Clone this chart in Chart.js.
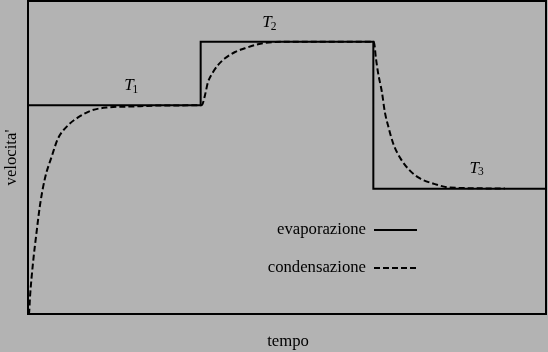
<!DOCTYPE html>
<html>
<head>
<meta charset="utf-8">
<script src="https://cdn.jsdelivr.net/npm/chart.js@4"></script>
<style>
  html, body { margin: 0; padding: 0; background: #b3b3b3; }
  #wrap { width: 548px; height: 352px; position: relative; }
</style>
</head>
<body>
<div id="wrap"><canvas id="c" width="548" height="352"></canvas></div>
<script>
// ---- data ----
const seriesNames = ["evaporazione", "condensazione"];
const axisTitles = { x: "tempo", y: "velocita'" };
const phaseLabels = ["T", "T", "T"];
const phaseSubs = ["1", "2", "3"];
const phaseLabelX = [6, 14, 26];
const phaseLabelY = [73, 93, 46.5];

// evaporazione: step levels
const evapX = [0, 10, 10, 20, 20, 30];
const evapY = [66.7, 66.7, 87, 87, 40, 40];

// condensazione
const condX = [0, 0.06, 0.12, 0.29, 0.52, 0.69, 0.98, 1.39, 1.74, 2.32, 2.90, 3.71, 4.63, 6.02, 7.64, 10,
  10.08, 10.25, 10.42, 10.71, 11.0, 11.41, 11.99, 12.57, 13.32, 14.30, 15.75, 20.03,
  20.15, 20.27, 20.50, 20.67, 20.85, 21.13, 21.54, 22.12, 22.70, 23.45, 24.44, 27.62];
const condY = [0, 0.3, 5.8, 16.3, 27.2, 34.6, 43.3, 50.6, 56.1, 60.3, 62.8, 65.1, 66.0, 66.3, 66.6, 66.7,
  66.8, 69.9, 74.0, 77.2, 79.5, 81.7, 83.7, 84.9, 86.2, 86.9, 87.0, 87.0,
  81.7, 77.2, 70.8, 64.4, 60.3, 54.8, 50.0, 45.8, 43.3, 41.7, 40.4, 40.1];

const toPts = (xs, ys) => xs.map((x, i) => ({ x: x, y: ys[i] }));

const SERIF = "'Liberation Serif', 'DejaVu Serif', serif";

const decor = {
  id: 'decor',
  beforeDraw(chart) {
    const ctx = chart.ctx;
    ctx.save();
    ctx.fillStyle = '#b3b3b3';
    ctx.fillRect(0, 0, chart.width, chart.height);
    ctx.restore();
  },
  afterDraw(chart) {
    const ctx = chart.ctx;
    const a = chart.chartArea;
    const xs = chart.scales.x, ys = chart.scales.y;
    ctx.save();
    // frame
    ctx.strokeStyle = '#000';
    ctx.lineWidth = 2;
    ctx.setLineDash([]);
    ctx.strokeRect(a.left, a.top, a.right - a.left, a.bottom - a.top);

    ctx.fillStyle = '#000';
    // axis titles
    ctx.font = '16.7px ' + SERIF;
    ctx.textAlign = 'center';
    ctx.textBaseline = 'middle';
    ctx.fillText(axisTitles.x, (a.left + a.right) / 2 + 1, 342);
    ctx.save();
    ctx.translate(12, (a.top + a.bottom) / 2);
    ctx.rotate(-Math.PI / 2);
    ctx.fillText(axisTitles.y, 0, 0);
    ctx.restore();

    // phase labels
    for (let i = 0; i < phaseLabels.length; i++) {
      const px = xs.getPixelForValue(phaseLabelX[i]);
      const py = ys.getPixelForValue(phaseLabelY[i]);
      ctx.font = 'italic 17px ' + SERIF;
      ctx.textAlign = 'right';
      ctx.textBaseline = 'middle';
      ctx.fillText(phaseLabels[i], px + 2, py);
      ctx.font = '11.5px ' + SERIF;
      ctx.textAlign = 'left';
      ctx.fillText(phaseSubs[i], px + 1, py + 4);
    }

    // legend
    const ds = chart.data.datasets;
    const legY = [230, 268];
    ctx.font = '16.7px ' + SERIF;
    for (let i = 0; i < ds.length; i++) {
      ctx.textAlign = 'right';
      ctx.textBaseline = 'middle';
      ctx.fillText(ds[i].label, 366, legY[i]);
      ctx.beginPath();
      ctx.lineWidth = 2;
      ctx.setLineDash(ds[i].borderDash || []);
      ctx.moveTo(374, legY[i]);
      ctx.lineTo(417, legY[i]);
      ctx.stroke();
    }
    ctx.restore();
  }
};

new Chart(document.getElementById('c'), {
  type: 'scatter',
  data: {
    datasets: [
      {
        label: seriesNames[0],
        data: toPts(evapX, evapY),
        showLine: true,
        borderColor: '#000',
        borderWidth: 2,
        pointRadius: 0,
        tension: 0
      },
      {
        label: seriesNames[1],
        data: toPts(condX, condY),
        showLine: true,
        borderColor: '#000',
        borderWidth: 2,
        borderDash: [6, 3],
        pointRadius: 0,
        cubicInterpolationMode: 'monotone'
      }
    ]
  },
  options: {
    responsive: false,
    animation: false,
    devicePixelRatio: 1,
    layout: { padding: { left: 28, top: 1, right: 2, bottom: 38 } },
    scales: {
      x: { type: 'linear', min: 0, max: 30, display: false },
      y: { type: 'linear', min: 0, max: 100, display: false }
    },
    plugins: {
      legend: { display: false },
      tooltip: { enabled: false }
    }
  },
  plugins: [decor]
});
</script>
</body>
</html>
